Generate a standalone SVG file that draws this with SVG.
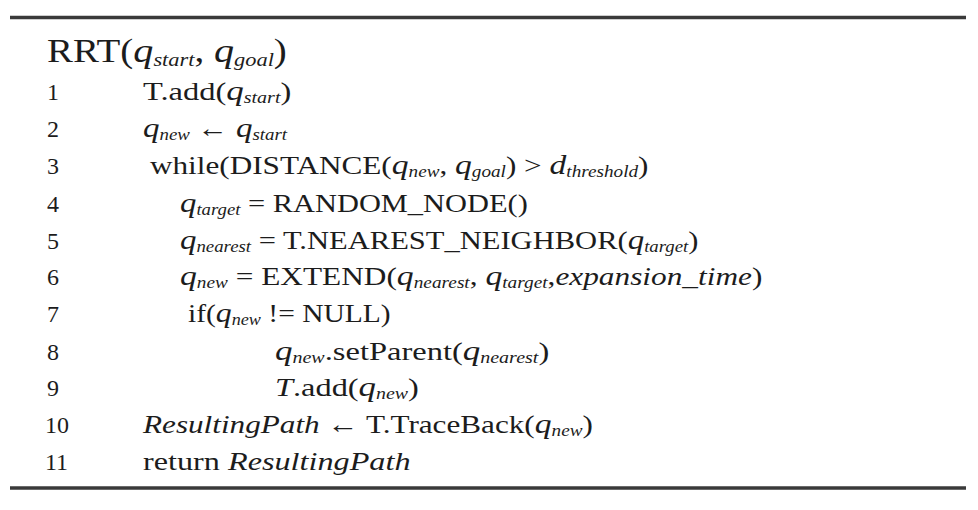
<svg xmlns="http://www.w3.org/2000/svg" width="978" height="510" viewBox="0 0 978 510">
<style>
text{font-family:"Liberation Serif","Times New Roman",serif;font-size:26px;fill:#1c1c1c}
.n{font-size:24px}
.i{font-style:italic}
.q{font-style:italic;font-size:28px}
.s{font-style:italic;font-size:16px}
.rule{stroke:#3a3a3a;stroke-width:3.5}
</style>
<rect width="978" height="510" fill="#fff"/>
<g id="rules">
<line class="rule" x1="10" y1="17.5" x2="966" y2="17.5"/>
<line class="rule" x1="10" y1="488" x2="966" y2="488"/>
</g>
<g id="header"><text transform="translate(47,62) scale(1.18,1)" style="font-size:33px">RRT(<tspan class="q" style="font-size:34px">q</tspan><tspan class="s" style="font-size:19px" dy="4">start</tspan><tspan dy="-4">, </tspan><tspan class="q" style="font-size:34px">q</tspan><tspan class="s" style="font-size:19px" dy="4">goal</tspan><tspan dy="-4">)</tspan></text></g>
<g id="numbers">
<text class="n" x="47" y="100">1</text>
<text class="n" x="47" y="137">2</text>
<text class="n" x="47" y="174">3</text>
<text class="n" x="47" y="212">4</text>
<text class="n" x="47" y="249">5</text>
<text class="n" x="47" y="285">6</text>
<text class="n" x="47" y="322">7</text>
<text class="n" x="47" y="360">8</text>
<text class="n" x="47" y="396">9</text>
<text class="n" x="45" y="433">10</text>
<text class="n" x="45" y="470">11</text>
</g>
<g id="line1"><text transform="translate(143,100) scale(1.25,1)">T.add(<tspan class="q">q</tspan><tspan class="s" dy="3">start</tspan><tspan dy="-3">)</tspan></text></g>
<g id="line2"><text transform="translate(143,137) scale(1.18,1)"><tspan class="q">q</tspan><tspan class="s" dy="3">new</tspan><tspan dy="-3"> ← </tspan><tspan class="q">q</tspan><tspan class="s" dy="3">start</tspan></text></g>
<g id="line3"><text transform="translate(150,174) scale(1.2,1)">while(DISTANCE(<tspan class="q">q</tspan><tspan class="s" dy="3">new</tspan><tspan dy="-3">, </tspan><tspan class="q">q</tspan><tspan class="s" dy="3">goal</tspan><tspan dy="-3">) &gt; </tspan><tspan class="q">d</tspan><tspan class="s" dy="3">threshold</tspan><tspan dy="-3">)</tspan></text></g>
<g id="line4"><text transform="translate(180,212) scale(1.17,1)"><tspan class="q">q</tspan><tspan class="s" dy="3">target</tspan><tspan dy="-3"> = RANDOM_NODE()</tspan></text></g>
<g id="line5"><text transform="translate(180,249) scale(1.175,1)"><tspan class="q">q</tspan><tspan class="s" dy="3">nearest</tspan><tspan dy="-3"> = T.NEAREST_NEIGHBOR(</tspan><tspan class="q">q</tspan><tspan class="s" dy="3">target</tspan><tspan dy="-3">)</tspan></text></g>
<g id="line6"><text transform="translate(180,285) scale(1.205,1)"><tspan class="q">q</tspan><tspan class="s" dy="3">new</tspan><tspan dy="-3"> = EXTEND(</tspan><tspan class="q">q</tspan><tspan class="s" dy="3">nearest</tspan><tspan dy="-3">, </tspan><tspan class="q">q</tspan><tspan class="s" dy="3">target</tspan><tspan dy="-3">,</tspan><tspan class="i">expansion_time</tspan>)</text></g>
<g id="line7"><text transform="translate(188,322) scale(1.135,1)">if(<tspan class="q">q</tspan><tspan class="s" dy="3">new</tspan><tspan dy="-3"> != NULL)</tspan></text></g>
<g id="line8"><text transform="translate(275,360) scale(1.25,1)"><tspan class="q">q</tspan><tspan class="s" dy="3">new</tspan><tspan dy="-3">.setParent(</tspan><tspan class="q">q</tspan><tspan class="s" dy="3">nearest</tspan><tspan dy="-3">)</tspan></text></g>
<g id="line9"><text transform="translate(275,396) scale(1.245,1)"><tspan class="i">T</tspan>.add(<tspan class="q">q</tspan><tspan class="s" dy="3">new</tspan><tspan dy="-3">)</tspan></text></g>
<g id="line10"><text transform="translate(143,433) scale(1.2,1)"><tspan class="i">ResultingPath</tspan> ← T.TraceBack(<tspan class="q">q</tspan><tspan class="s" dy="3">new</tspan><tspan dy="-3">)</tspan></text></g>
<g id="line11"><text transform="translate(143,470) scale(1.24,1)">return <tspan class="i">ResultingPath</tspan></text></g>
</svg>
